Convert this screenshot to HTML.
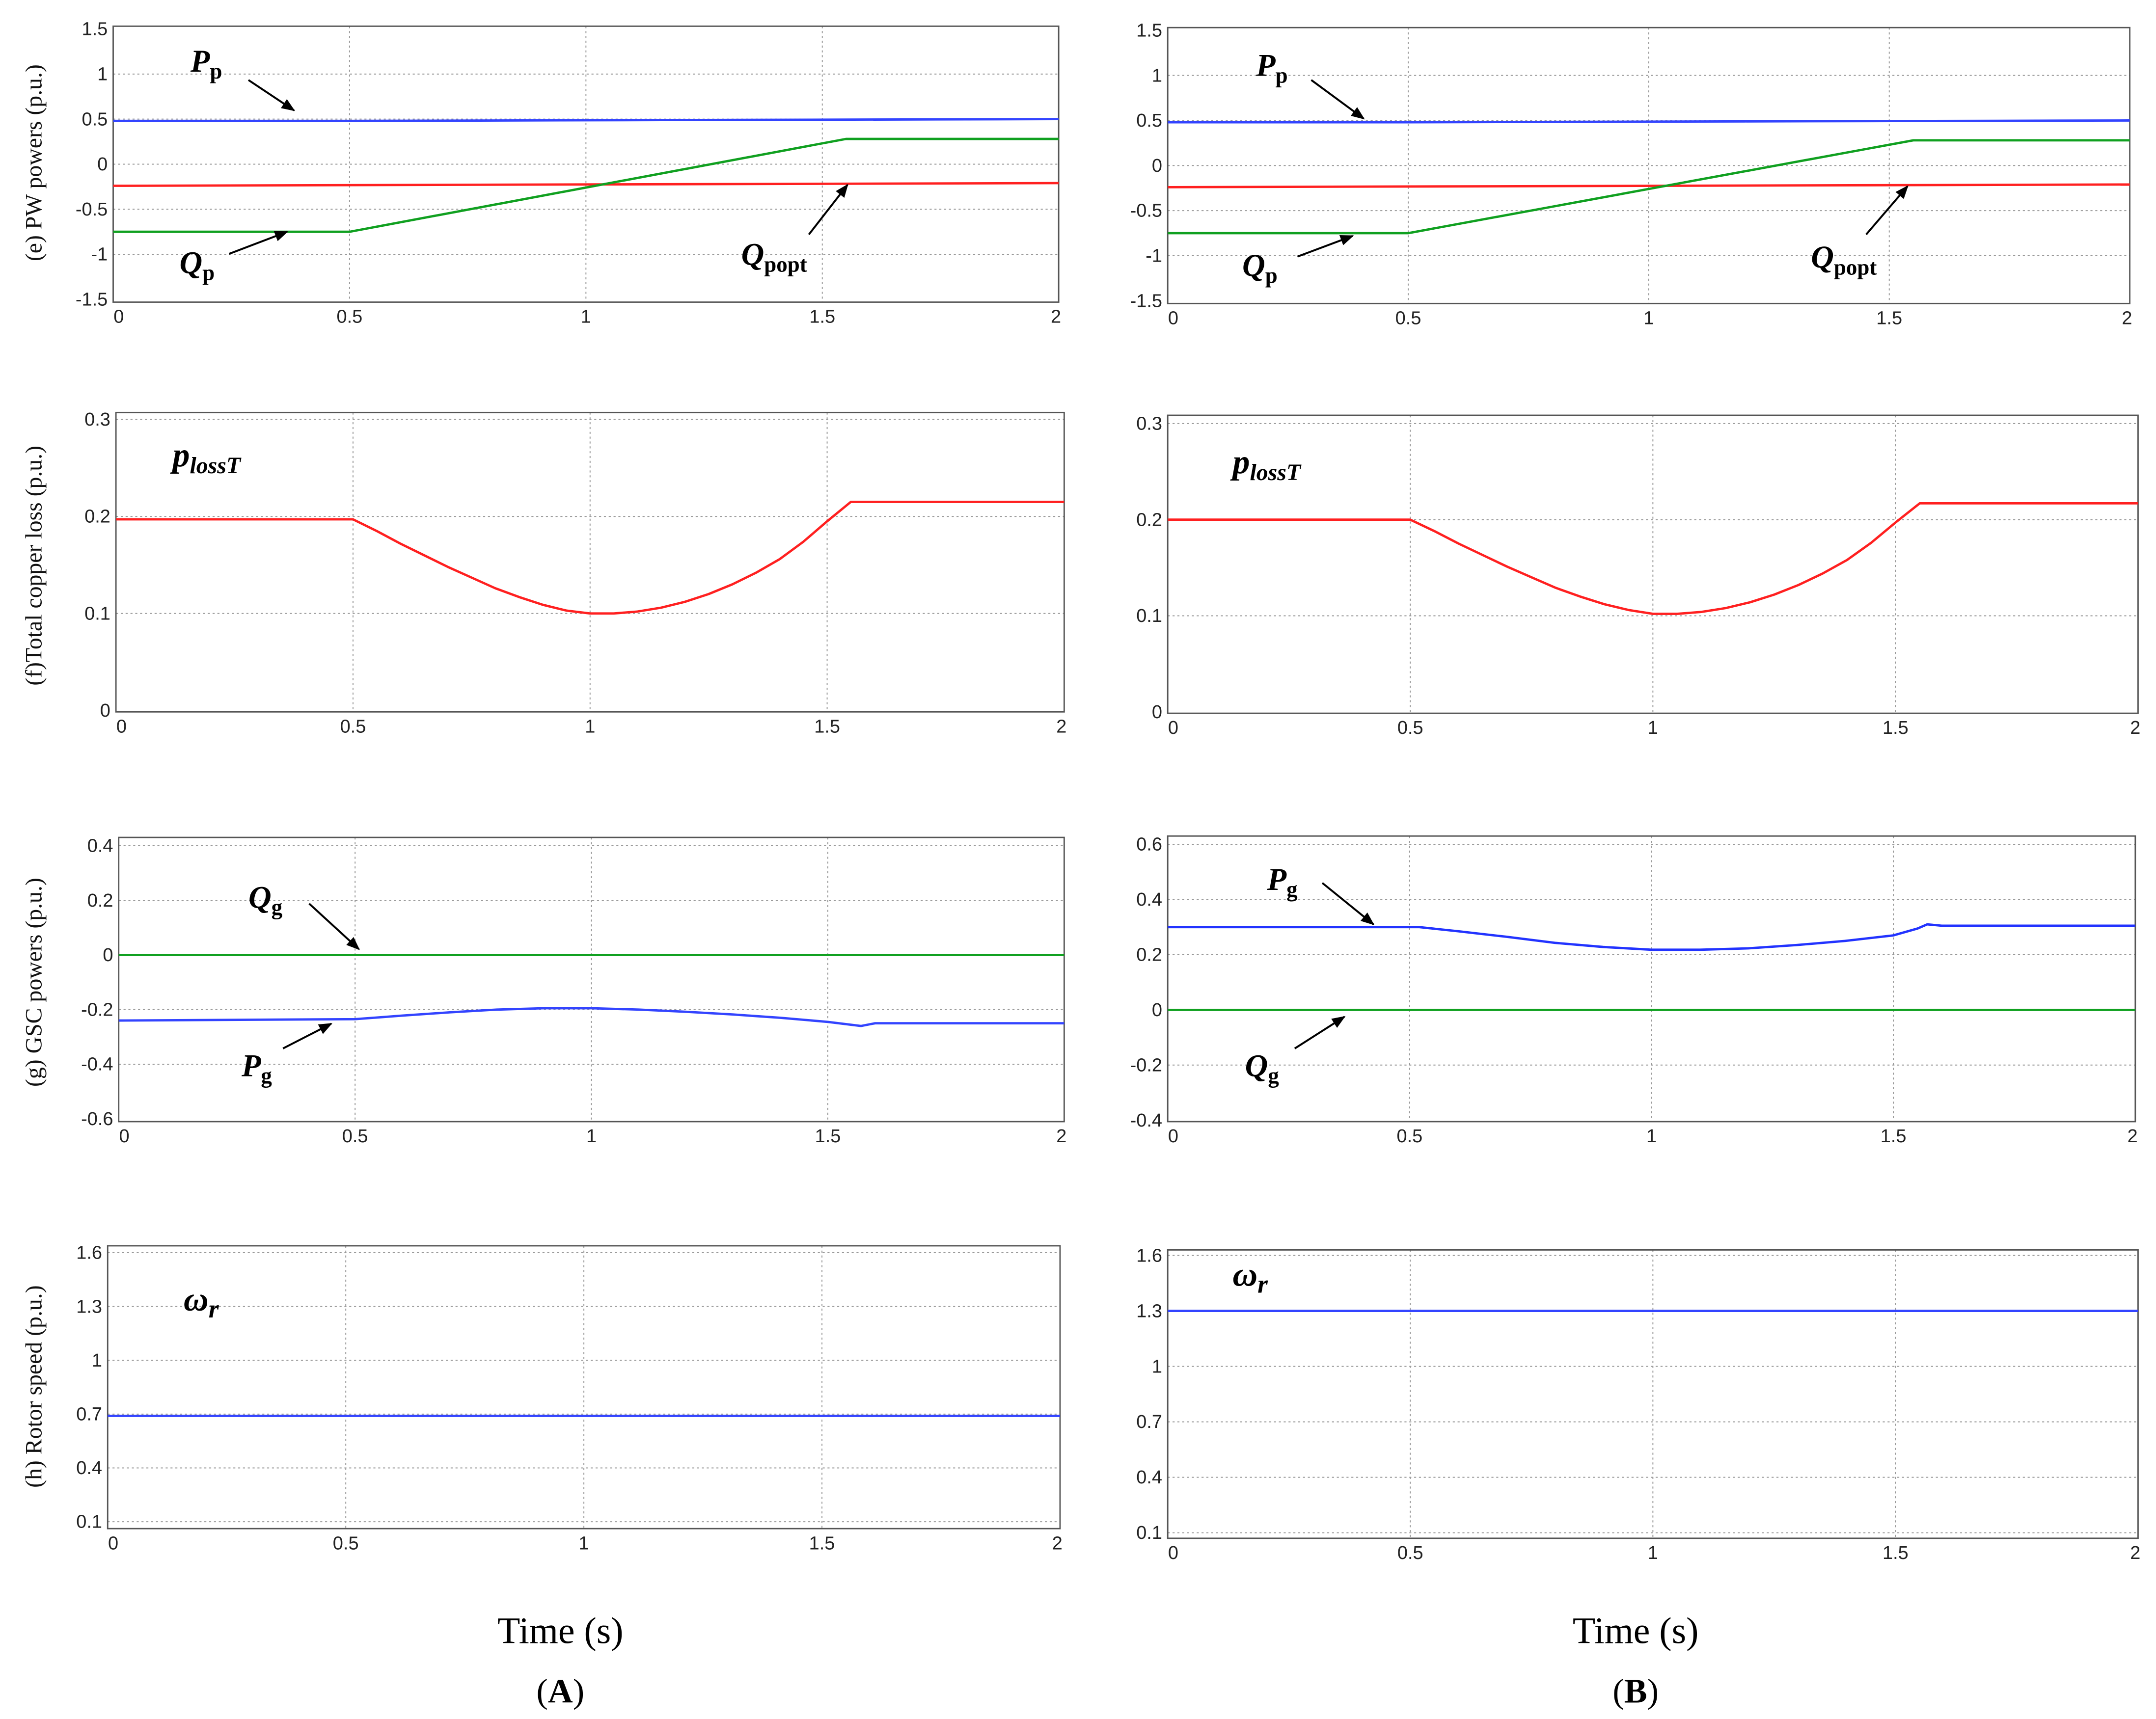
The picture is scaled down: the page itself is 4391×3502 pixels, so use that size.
<!DOCTYPE html>
<html><head><meta charset="utf-8"><style>
html,body{margin:0;padding:0;background:#fff;}
svg{display:block;}
</style></head><body>
<svg id="fig" width="4391" height="3502" viewBox="0 0 1562 1246" preserveAspectRatio="none" xmlns="http://www.w3.org/2000/svg">
<defs><marker id="ah" viewBox="0 0 10 10" refX="9" refY="5" markerWidth="7" markerHeight="7" orient="auto"><path d="M0,1 L10,5 L0,9 z" fill="#000"/></marker></defs>
</svg>
<script>
// ---- data ----
const xTicks=[0,0.5,1,1.5,2];
const xTickLabels=["0","0.5","1","1.5","2"];
const ticksE=[-1.5,-1,-0.5,0,0.5,1,1.5];
const ticksE_lbl=["-1.5","-1","-0.5","0","0.5","1","1.5"];
const ticksF=[0,0.1,0.2,0.3];
const ticksF_lbl=["0","0.1","0.2","0.3"];
const ticksGA=[-0.6,-0.4,-0.2,0,0.2,0.4];
const ticksGA_lbl=["-0.6","-0.4","-0.2","0","0.2","0.4"];
const ticksGB=[-0.4,-0.2,0,0.2,0.4,0.6];
const ticksGB_lbl=["-0.4","-0.2","0","0.2","0.4","0.6"];
const ticksH=[0.1,0.4,0.7,1,1.3,1.6];
const ticksH_lbl=["0.1","0.4","0.7","1","1.3","1.6"];

const tPp=[0,0.5,1.2,2]; const vPp=[0.48,0.48,0.49,0.5];
const tQp=[0,0.5,1.55,2]; const vQp=[-0.75,-0.75,0.28,0.28];
const tQpopt=[0,2]; const vQpopt=[-0.24,-0.21];
const tLoss=[0,0.5,0.55,0.6,0.65,0.7,0.75,0.8,0.85,0.9,0.95,1.0,1.05,1.1,1.15,1.2,1.25,1.3,1.35,1.4,1.45,1.5,1.55,2];
const vLossA=[0.197,0.197,0.185,0.172,0.16,0.148,0.137,0.126,0.117,0.109,0.103,0.1,0.1,0.102,0.106,0.112,0.12,0.13,0.142,0.156,0.174,0.195,0.215,0.215];
const vLossB=[0.2,0.2,0.188,0.175,0.163,0.151,0.14,0.129,0.12,0.112,0.106,0.102,0.102,0.104,0.108,0.114,0.122,0.132,0.144,0.158,0.176,0.197,0.217,0.217];
const tPgA=[0,0.5,0.6,0.7,0.8,0.9,1.0,1.1,1.2,1.3,1.4,1.5,1.57,1.6,2];
const vPgA=[-0.24,-0.235,-0.222,-0.21,-0.2,-0.195,-0.195,-0.2,-0.208,-0.218,-0.23,-0.245,-0.26,-0.25,-0.25];
const tPgB=[0,0.52,0.6,0.7,0.8,0.9,1.0,1.1,1.2,1.3,1.4,1.5,1.55,1.57,1.6,2];
const vPgB=[0.3,0.3,0.285,0.265,0.243,0.228,0.218,0.218,0.223,0.235,0.25,0.27,0.295,0.31,0.305,0.305];
const tQg=[0,2]; const vQg=[0,0];
const tWr=[0,2]; const vWrA=[0.69,0.69]; const vWrB=[1.3,1.3];

const NS="http://www.w3.org/2000/svg";
const svg=document.getElementById('fig');
function mk(tag,attrs,parent){const e=document.createElementNS(NS,tag);for(const k in attrs)e.setAttribute(k,attrs[k]);(parent||svg).appendChild(e);return e;}

function panel(id,box,yMin,yMax,yTickPx,ticks,labels){
  const g=mk('g',{});
  
  
  const sx=v=>box.x0+(v-0)/(2-0)*(box.x1-box.x0);
  const sy=v=>yTickPx[0]+(v-yMin)/(yMax-yMin)*(yTickPx[1]-yTickPx[0]);
  xTicks.forEach((t,i)=>{
    const x=sx(t);
    if(i>0&&i<xTicks.length-1){const l=mk('line',{x1:x,x2:x,y1:box.yTop,y2:box.yBot,stroke:'#999','stroke-width':0.7,'stroke-dasharray':'1.5,2'},g);
      }
    const tx=mk('text',{x:x+(i==0?4:(i==xTicks.length-1?-2:0)),y:box.yBot+15,'text-anchor':'middle','font-family':'Liberation Sans, sans-serif','font-size':13.5,fill:'#222'},g);
    tx.textContent=xTickLabels[i];
    
  });
  ticks.forEach((v,i)=>{
    const y=sy(v);
    if(y>box.yTop+2&&y<box.yBot-2){const l=mk('line',{x1:box.x0,x2:box.x1,y1:y,y2:y,stroke:'#999','stroke-width':0.7,'stroke-dasharray':'1.5,2'},g);
      }
    const tx=mk('text',{x:box.x0-4,y:y+4.5,'text-anchor':'end','font-family':'Liberation Sans, sans-serif','font-size':13.5,fill:'#222'},g);
    tx.textContent=labels[i];
    
  });
  const r=mk('rect',{x:box.x0,y:box.yTop,width:box.x1-box.x0,height:box.yBot-box.yTop,fill:'none',stroke:'#555','stroke-width':1},g);
  
  return {g,sx,sy};
}
function series(p,name,ts,vs,color){
  const d=ts.map((t,i)=>(i?'L':'M')+p.sx(t).toFixed(2)+','+p.sy(vs[i]).toFixed(2)).join(' ');
  const path=mk('path',{d:d,fill:'none',stroke:color,'stroke-width':1.7,'stroke-linejoin':'round'},p.g);
  
  
}
function label(x,y,main,sub,name,size,subsize){
  const t=mk('text',{x:x,y:y,'font-family':'Liberation Serif, serif','font-size':size||23,'font-weight':'bold','font-style':'italic',fill:'#000'});
  
  const a=mk('tspan',{},t);a.textContent=main;
  const b=mk('tspan',{dy:5,'font-size':subsize||16,'font-style':sub.it?'italic':'normal'},t);b.textContent=sub.s;
}
function arrow(x1,y1,x2,y2,name){
  const l=mk('line',{x1,y1,x2,y2,stroke:'#000','stroke-width':1.4,'marker-end':'url(#ah)'});
  
}
function ylab(x,y,txt,name){
  const t=mk('text',{x:0,y:0,transform:`translate(${x},${y}) rotate(-90)`,'text-anchor':'middle','font-family':'Liberation Serif, serif','font-size':17,fill:'#111'});
  t.textContent=txt;
}

const eA=panel('pw-powers-a',{x0:82,x1:767,yTop:19,yBot:219},-1.5,1.5,[217,21],ticksE,ticksE_lbl);
series(eA,'pp-line-a',tPp,vPp,'#3344ff');series(eA,'qpopt-line-a',tQpopt,vQpopt,'#ff2020');series(eA,'qp-line-a',tQp,vQp,'#10a020');
const eB=panel('pw-powers-b',{x0:846,x1:1543,yTop:20,yBot:220},-1.5,1.5,[218,22],ticksE,ticksE_lbl);
series(eB,'pp-line-b',tPp,vPp,'#3344ff');series(eB,'qpopt-line-b',tQpopt,vQpopt,'#ff2020');series(eB,'qp-line-b',tQp,vQp,'#10a020');
const fA=panel('copper-loss-a',{x0:84,x1:771,yTop:299,yBot:516},0,0.3,[515,304],ticksF,ticksF_lbl);
series(fA,'ploss-line-a',tLoss,vLossA,'#ff2020');
const fB=panel('copper-loss-b',{x0:846,x1:1549,yTop:301,yBot:517},0,0.3,[516,307],ticksF,ticksF_lbl);
series(fB,'ploss-line-b',tLoss,vLossB,'#ff2020');
const gA=panel('gsc-powers-a',{x0:86,x1:771,yTop:607,yBot:813},-0.6,0.4,[811,613],ticksGA,ticksGA_lbl);
series(gA,'qg-line-a',tQg,vQg,'#10a020');series(gA,'pg-line-a',tPgA,vPgA,'#3344ff');
const gB=panel('gsc-powers-b',{x0:846,x1:1547,yTop:606,yBot:813},-0.4,0.6,[812,612],ticksGB,ticksGB_lbl);
series(gB,'qg-line-b',tQg,vQg,'#10a020');series(gB,'pg-line-b',tPgB,vPgB,'#2233ff');
const hA=panel('rotor-speed-a',{x0:78,x1:768,yTop:903,yBot:1108},0.1,1.6,[1103,908],ticksH,ticksH_lbl);
series(hA,'wr-line-a',tWr,vWrA,'#3344ff');
const hB=panel('rotor-speed-b',{x0:846,x1:1549,yTop:906,yBot:1115},0.1,1.6,[1111,910],ticksH,ticksH_lbl);
series(hB,'wr-line-b',tWr,vWrB,'#3344ff');

label(138,52,'P',{s:'p'},'pp-label-a');arrow(180,58,213,80,'pp-arrow-a');
label(130,198,'Q',{s:'p'},'qp-label-a');arrow(166,184,208,168,'qp-arrow-a');
label(537,192,'Q',{s:'popt'},'qpopt-label-a');arrow(586,170,614,134,'qpopt-arrow-a');
label(910,55,'P',{s:'p'},'pp-label-b');arrow(950,58,988,86,'pp-arrow-b');
label(900,200,'Q',{s:'p'},'qp-label-b');arrow(940,186,980,171,'qp-arrow-b');
label(1312,194,'Q',{s:'popt'},'qpopt-label-b');arrow(1352,170,1382,135,'qpopt-arrow-b');
label(125,338,'p',{s:'lossT',it:true},'ploss-label-a',25,17);
label(893,343,'p',{s:'lossT',it:true},'ploss-label-b',25,17);
label(180,658,'Q',{s:'g'},'qg-label-a');arrow(224,655,260,688,'qg-arrow-a');
label(175,780,'P',{s:'g'},'pg-label-a');arrow(205,760,240,742,'pg-arrow-a');
label(918,645,'P',{s:'g'},'pg-label-b');arrow(958,640,995,670,'pg-arrow-b');
label(902,780,'Q',{s:'g'},'qg-label-b');arrow(938,760,974,737,'qg-arrow-b');
label(133,950,'ω',{s:'r',it:true},'wr-label-a',25,19);
label(893,932,'ω',{s:'r',it:true},'wr-label-b',25,19);

ylab(30,118,'(e)  PW  powers (p.u.)','y-axis-title-e');
ylab(30,410,'(f)Total copper loss (p.u.)','y-axis-title-f');
ylab(30,712,'(g) GSC  powers (p.u.)','y-axis-title-g');
ylab(30,1005,'(h) Rotor speed (p.u.)','y-axis-title-h');

function ctext(x,y,txt,name,size,parts){
  const t=mk('text',{x,y,'text-anchor':'middle','font-family':'Liberation Serif, serif','font-size':size,fill:'#000'});
  
  if(parts){parts.forEach(p=>{const sp=mk('tspan',p.b?{'font-weight':'bold'}:{},t);sp.textContent=p.s;});}else t.textContent=txt;
}
ctext(406,1191,'Time (s)','x-axis-title-a',27);
ctext(406,1234,'','panel-label-a',25,[{s:'('},{s:'A',b:1},{s:')'}]);
ctext(1185,1191,'Time (s)','x-axis-title-b',27);
ctext(1185,1234,'','panel-label-b',25,[{s:'('},{s:'B',b:1},{s:')'}]);
</script>
</body></html>
